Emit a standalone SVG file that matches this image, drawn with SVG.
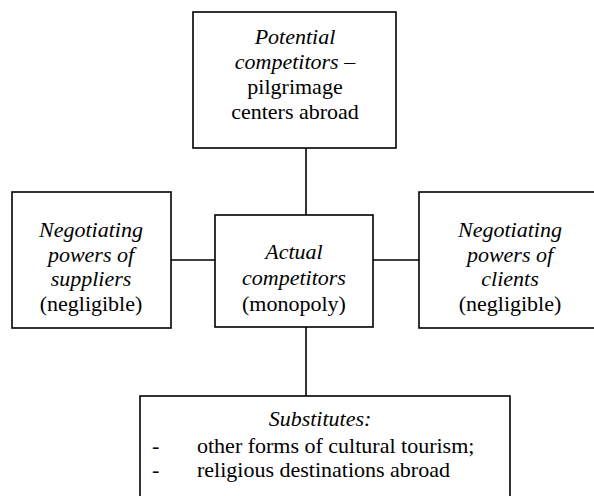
<svg xmlns="http://www.w3.org/2000/svg" width="594" height="496" viewBox="0 0 594 496">
<style>
.box{fill:#fff;stroke:#000;stroke-width:1.6}
.ln{stroke:#000;stroke-width:1.6;fill:none}
text{font-family:"Liberation Serif","Times New Roman",serif;font-size:22px;fill:#000}
.c{text-anchor:middle}
.i{font-style:italic}
</style>
<rect width="594" height="496" fill="#fff"/>
<g id="connectors">
<line class="ln" x1="306" y1="148" x2="306" y2="215"/>
<line class="ln" x1="171" y1="260" x2="215" y2="260"/>
<line class="ln" x1="373" y1="260" x2="419" y2="260"/>
<line class="ln" x1="306" y1="327" x2="306" y2="396"/>
</g>
<g id="potential">
<rect class="box" x="193" y="12" width="203" height="136"/>
<text class="c" x="295" y="44"><tspan class="i">Potential</tspan></text>
<text class="c" x="295" y="69"><tspan class="i">competitors</tspan> –</text>
<text class="c" x="295" y="94">pilgrimage</text>
<text class="c" x="295" y="119">centers abroad</text>
</g>
<g id="suppliers">
<rect class="box" x="12" y="192" width="159" height="136"/>
<text class="c i" x="91" y="237">Negotiating</text>
<text class="c i" x="91" y="262">powers of</text>
<text class="c i" x="91" y="286">suppliers</text>
<text class="c" x="91" y="311">(negligible)</text>
</g>
<g id="actual">
<rect class="box" x="215" y="215" width="158" height="112"/>
<text class="c i" x="294" y="259">Actual</text>
<text class="c i" x="294" y="285">competitors</text>
<text class="c" x="294" y="311">(monopoly)</text>
</g>
<g id="clients">
<rect class="box" x="419" y="192" width="182" height="136"/>
<text class="c i" x="510" y="237">Negotiating</text>
<text class="c i" x="510" y="262">powers of</text>
<text class="c i" x="510" y="286">clients</text>
<text class="c" x="510" y="311">(negligible)</text>
</g>
<g id="substitutes">
<rect class="box" x="140" y="396" width="370" height="104"/>
<text class="c i" x="320" y="426">Substitutes:</text>
<text x="152" y="453">-</text>
<text x="197" y="453">other forms of cultural tourism;</text>
<text x="152" y="477">-</text>
<text x="197" y="477">religious destinations abroad</text>
</g>
</svg>
